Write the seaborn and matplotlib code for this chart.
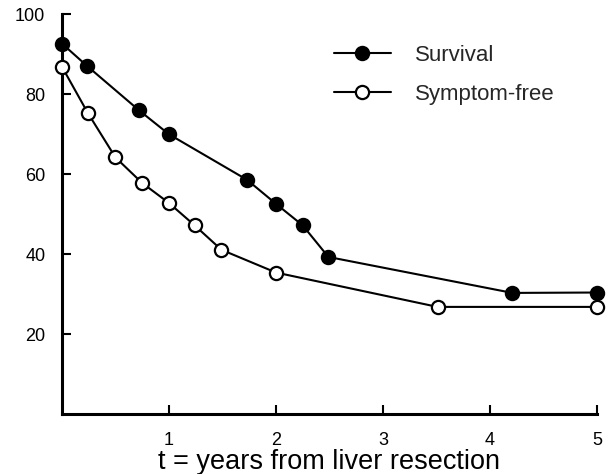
import matplotlib
matplotlib.use("Agg")
import matplotlib.pyplot as plt
import seaborn as sns
import pandas as pd
from matplotlib.lines import Line2D

# Years after resection and percentages for each curve
survival_years = [0, 0.23, 0.72, 1.0, 1.73, 2.0, 2.25, 2.49, 4.21, 5.0]
survival_pct = [92.7, 87.2, 76.0, 70.0, 58.6, 52.6, 47.2, 39.3, 30.3, 30.4]
symptom_free_years = [0, 0.24, 0.5, 0.75, 1.0, 1.24, 1.49, 2.0, 3.51, 5.0]
symptom_free_pct = [86.9, 75.4, 64.2, 57.8, 52.8, 47.2, 41.1, 35.4, 26.8, 26.8]

x_ticks = [1, 2, 3, 4, 5]
y_ticks = [20, 40, 60, 80, 100]
series_names = ["Survival", "Symptom-free"]

sns.set_style("white")
plt.rcParams["font.family"] = ["Liberation Sans", "DejaVu Sans"]

surv_df = pd.DataFrame({"t": survival_years, "pct": survival_pct})
free_df = pd.DataFrame({"t": symptom_free_years, "pct": symptom_free_pct})

fig = plt.figure(figsize=(6.1, 4.74), dpi=100)
ax = fig.add_axes([0.1016, 0.1266, 0.877, 0.843])

line_kw = dict(color="black", linewidth=1.5, marker="o", markersize=9.5,
               markeredgewidth=1.6, markeredgecolor="black", zorder=3)
sns.lineplot(data=surv_df, x="t", y="pct", ax=ax, markerfacecolor="black", **line_kw)
sns.lineplot(data=free_df, x="t", y="pct", ax=ax, markerfacecolor="white", **line_kw)

for m in ax.lines:
    m.set_clip_on(False)

ax.set_xlim(0, 5)
ax.set_ylim(0, 100)
ax.set_xticks(x_ticks)
ax.set_yticks(y_ticks)
ax.set_xticklabels([str(v) for v in x_ticks])
ax.set_yticklabels([str(v) for v in y_ticks])
ax.tick_params(axis="both", direction="in", length=6.5, width=1.5, color="black",
               labelsize=13, labelcolor="black", bottom=True, left=True)
ax.tick_params(axis="x", pad=13)
ax.tick_params(axis="y", pad=12)

ax.set_xlabel("t = years from liver resection", fontsize=19.5, labelpad=0, color="black")
ax.set_ylabel("")

for side in ["top", "right"]:
    ax.spines[side].set_visible(False)
for side in ["left", "bottom"]:
    ax.spines[side].set_color("black")
    ax.spines[side].set_linewidth(2.2)

handles = [
    Line2D([], [], color="black", linewidth=1.5, marker="o", markersize=9.5,
           markerfacecolor="black", markeredgecolor="black", markeredgewidth=1.6),
    Line2D([], [], color="black", linewidth=1.5, marker="o", markersize=9.5,
           markerfacecolor="white", markeredgecolor="black", markeredgewidth=1.6),
]
ax.legend(handles, series_names, loc="upper left", bbox_to_anchor=(334 / 610, 1 - 45 / 474),
          bbox_transform=fig.transFigure, frameon=False, fontsize=16,
          handlelength=2.56, handletextpad=1.08, labelspacing=0.82,
          borderpad=0, borderaxespad=0)

fig.savefig("out.png", dpi=100)
